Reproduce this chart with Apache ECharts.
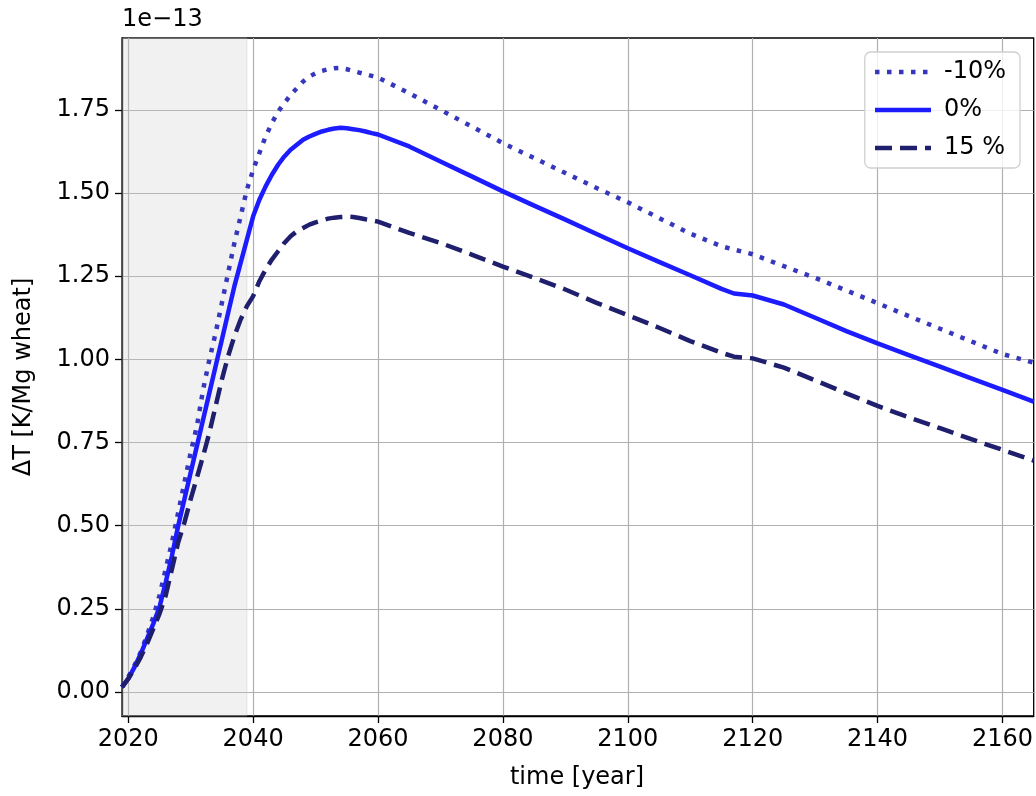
<!DOCTYPE html>
<html>
<head>
<meta charset="utf-8">
<script src="https://cdn.jsdelivr.net/npm/echarts@6/dist/echarts.min.js"></script>
<style>html,body{margin:0;padding:0;background:#fff}#c{width:1036px;height:796px}</style>
</head>
<body>
<div id="c"></div>
<script>
// years and values (units of 1e-13 K/Mg wheat)
const years = [2019,2020,2021,2022,2023,2024,2025,2026,2027,2028,2029,2030,2031,2032,2033,2034,2035,2036,2037,2038,2039,2040,
  2041,2042,2043,2044,2045,2046,2047,2048,2049,2050,2051,2052,2053,2054,2055,2056,2057,2058,2059,2060,
  2065,2070,2075,2080,2085,2090,2095,2100,2105,2110,2115,2117,2120,2125,2130,2135,2140,2145,2150,2155,2160,2165];
const minus10 = [0.015,0.045,0.08,0.12,0.17,0.225,0.29,0.37,0.45,0.54,0.63,0.72,0.80,0.91,1.00,1.08,1.17,1.26,1.35,1.43,1.51,1.57,
  1.62,1.67,1.71,1.745,1.77,1.795,1.815,1.835,1.85,1.86,1.867,1.872,1.875,1.876,1.872,1.867,1.862,1.857,1.852,1.847,
  1.80,1.75,1.70,1.65,1.605,1.56,1.515,1.472,1.425,1.378,1.34,1.33,1.316,1.28,1.245,1.207,1.169,1.13,1.092,1.054,1.016,0.99];
const zero = [0.015,0.04,0.075,0.115,0.16,0.205,0.255,0.33,0.41,0.50,0.58,0.66,0.74,0.82,0.90,0.98,1.06,1.14,1.22,1.29,1.36,1.43,
  1.48,1.52,1.555,1.585,1.61,1.63,1.645,1.66,1.67,1.678,1.685,1.69,1.694,1.696,1.695,1.692,1.689,1.685,1.68,1.676,
  1.64,1.595,1.55,1.505,1.462,1.42,1.377,1.334,1.293,1.253,1.212,1.198,1.192,1.165,1.125,1.085,1.048,1.013,0.978,0.943,0.908,0.873];
const plus15 = [0.015,0.04,0.07,0.105,0.145,0.19,0.235,0.29,0.37,0.45,0.51,0.58,0.645,0.71,0.78,0.86,0.94,1.01,1.07,1.12,1.16,1.19,
  1.235,1.27,1.30,1.325,1.35,1.37,1.385,1.395,1.405,1.412,1.418,1.423,1.426,1.428,1.429,1.428,1.425,1.421,1.418,1.414,
  1.38,1.35,1.315,1.279,1.245,1.21,1.17,1.133,1.095,1.055,1.02,1.008,1.003,0.975,0.937,0.898,0.86,0.826,0.793,0.76,0.728,0.696];
const xTicks = [2020,2040,2060,2080,2100,2120,2140,2160];
const yTicks = [0,0.25,0.5,0.75,1.0,1.25,1.5,1.75];
const shadeRange = [2019,2039];
const names = ['-10%','0%','15 %'];

const font = 'DejaVu Sans';
const pair = (arr) => years.map((y,i)=>[y,arr[i]]);
const chart = echarts.init(document.getElementById('c'), null, {renderer:'canvas'});
const gridLine = {show:true, lineStyle:{color:'#b0b0b0', width:1.2}};
chart.setOption({
  animation:false,
  backgroundColor:'#fff',
  grid:{left:122, right:2, top:38, bottom:80, show:true, borderColor:'#000', borderWidth:1.3, backgroundColor:'transparent'},
  xAxis:{type:'value', min:2019, max:2165,
    axisLine:{show:true, onZero:false, lineStyle:{color:'#000', width:1.3}},
    axisTick:{show:true, length:7, customValues:xTicks, lineStyle:{color:'#000', width:1.3}},
    axisLabel:{customValues:xTicks, fontFamily:font, fontSize:24, color:'#000', margin:12,
      formatter:(v)=>String(v)},
    splitLine:gridLine},
  yAxis:{type:'value', min:-0.072, max:1.966,
    axisLine:{show:true, onZero:false, lineStyle:{color:'#000', width:1.3}},
    axisTick:{show:true, length:7, customValues:yTicks, lineStyle:{color:'#000', width:1.3}},
    axisLabel:{customValues:yTicks, fontFamily:font, fontSize:24, color:'#000', margin:12,
      formatter:(v)=>v.toFixed(2)},
    splitLine:gridLine},
  legend:{right:16, top:52, orient:'vertical', align:'left', itemWidth:56, itemHeight:24, itemGap:14,
    padding:[8,14,8,8], borderColor:'#d0d0d0', borderWidth:1.3, borderRadius:6, backgroundColor:'rgba(255,255,255,0.8)',
    itemStyle:{opacity:0},
    lineStyle:{width:4.5},
    textStyle:{fontFamily:font, fontSize:24, color:'#000', padding:[0,0,0,8]},
    data:names},
  graphic:[
    {type:'text', left:122, top:8, style:{text:'1e\u221213', font:'24px "DejaVu Sans"', fill:'#000'}},
    {type:'text', x:577, y:778, style:{text:'time [year]', font:'24px "DejaVu Sans"', fill:'#000', align:'center', verticalAlign:'middle'}},
    {type:'text', x:24, y:377, rotation:Math.PI/2, style:{text:'\u0394T [K/Mg wheat]', font:'24px "DejaVu Sans"', fill:'#000', align:'center', verticalAlign:'middle'}}
  ],
  series:[
    {name:names[0], type:'line', data:pair(minus10), showSymbol:false, symbol:'none', z:3,
      lineStyle:{color:'#3737bd', width:4.5, type:[4.5,7.5], cap:'butt'}, itemStyle:{color:'#3737bd'},
      markArea:{silent:true, itemStyle:{color:'rgba(200,200,200,0.25)', borderColor:'rgba(180,180,180,0.3)', borderWidth:1},
        data:[[{xAxis:shadeRange[0]},{xAxis:shadeRange[1]}]]}},
    {name:names[1], type:'line', data:pair(zero), showSymbol:false, symbol:'none', z:4,
      lineStyle:{color:'#1c1cff', width:4.5}, itemStyle:{color:'#1c1cff'}},
    {name:names[2], type:'line', data:pair(plus15), showSymbol:false, symbol:'none', z:5,
      lineStyle:{color:'#1f1f6e', width:4.5, type:[17,8], cap:'butt'}, itemStyle:{color:'#1f1f6e'}}
  ]
});
</script>
</body>
</html>
